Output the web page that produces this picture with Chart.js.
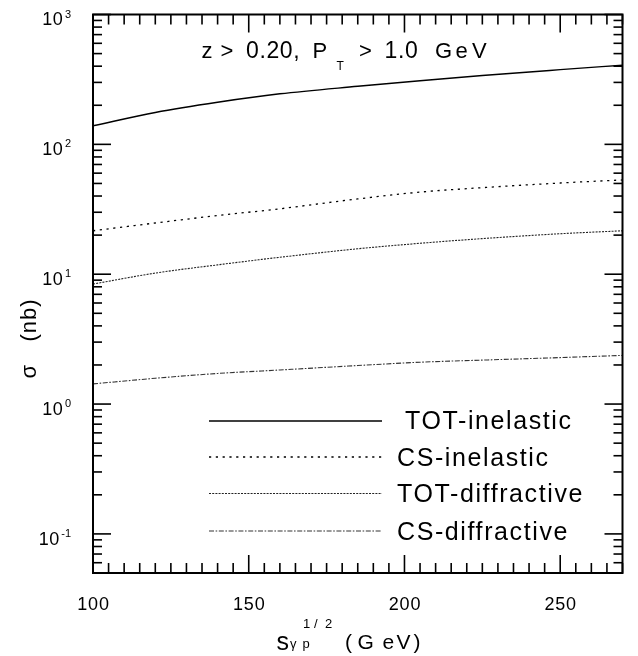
<!DOCTYPE html>
<html><head><meta charset="utf-8">
<script src="https://cdn.jsdelivr.net/npm/chart.js@4/dist/chart.umd.min.js"></script>
<style>html,body{margin:0;padding:0;background:#fff}#wrap{width:638px;height:656px;position:relative}</style>
</head><body><div id="wrap"><canvas id="c" width="638" height="656"></canvas></div>
<script>
// ---- data ----
const energies = [100, 120, 140, 160, 185, 205, 225, 250, 270];      // sqrt(s_γp) in GeV
const totInelastic = [139, 176, 211, 245, 280, 309, 339, 376, 407];    // nb
const csInelastic = [21.6, 24.8, 28.3, 31.9, 38.0, 42.9, 46.4, 50.4, 53.2];
const totDiffractive = [8.4, 10.2, 11.8, 13.5, 15.7, 17.3, 18.8, 20.5, 21.6];
const csDiffractive = [1.43, 1.58, 1.72, 1.83, 1.98, 2.10, 2.18, 2.28, 2.37];
const seriesNames = ['TOT-inelastic', 'CS-inelastic', 'TOT-diffractive', 'CS-diffractive'];
const xTickValues = [100, 150, 200, 250];
const yTickExponents = [3, 2, 1, 0, -1];
const xRange = [100, 270];
const yRange = [0.05, 1000];

const FONT = '"Liberation Sans", Arial, Helvetica, sans-serif';
const pts = arr => energies.map((e, i) => ({x: e, y: arr[i]}));

const styles = [
  {color: '#000', width: 1.4, dash: []},
  {color: '#000', width: 1.3, dash: [2.2, 4.6]},
  {color: '#222', width: 1.1, dash: [2, 1.2]},
  {color: '#333', width: 1.1, dash: [5, 1.6, 1.6, 1.6]}
];
const seriesData = [totInelastic, csInelastic, totDiffractive, csDiffractive];

function txt(ctx, s, x, y, size, opts = {}) {
  ctx.font = size + 'px ' + FONT;
  ctx.letterSpacing = (opts.ls || 0) + 'px';
  ctx.textAlign = opts.align || 'left';
  ctx.textBaseline = 'alphabetic';
  ctx.fillText(s, x, y);
  ctx.letterSpacing = '0px';
}

const frame = {
  id: 'frame',
  afterDraw(chart) {
    const {ctx, chartArea: a, scales: {x, y}} = chart;
    ctx.save();
    ctx.fillStyle = '#000';
    ctx.strokeStyle = '#000';
    ctx.setLineDash([]);
    const seg = (x1, y1, x2, y2) => { ctx.beginPath(); ctx.moveTo(x1, y1); ctx.lineTo(x2, y2); ctx.stroke(); };
    // frame
    ctx.lineWidth = 2;
    ctx.strokeRect(a.left, a.top, a.right - a.left, a.bottom - a.top);
    // x ticks (inside, bottom and top)
    ctx.lineWidth = 1.6;
    for (let v = xRange[0]; v <= xRange[1]; v += 5) {
      const px = x.getPixelForValue(v);
      const L = v % 50 === 0 ? 18 : 10;
      seg(px, a.bottom, px, a.bottom - L);
      seg(px, a.top, px, a.top + L);
    }
    // y ticks (inside, left and right)
    for (let e = -2; e <= 3; e++) {
      for (let m = 1; m <= 9; m++) {
        const v = m * Math.pow(10, e);
        if (v < yRange[0] * 0.999 || v > yRange[1] * 1.001) continue;
        const py = y.getPixelForValue(v);
        const L = m === 1 ? 18 : 9;
        seg(a.left, py, a.left + L, py);
        seg(a.right, py, a.right - L, py);
      }
    }
    // x tick labels
    xTickValues.forEach(v => txt(ctx, String(v), x.getPixelForValue(v) + 0.5, 609.5, 18, {align: 'center', ls: 0.8}));
    // y tick labels 10^n
    yTickExponents.forEach(n => {
      const py = y.getPixelForValue(Math.pow(10, n));
      const sup = String(n);
      ctx.font = '11px ' + FONT;
      const sw = ctx.measureText(sup).width;
      const right = 71;
      txt(ctx, sup, right - sw, py + 3, 11);
      txt(ctx, '10', right - sw - 1.5, py + 10.8, 18, {align: 'right', ls: 0.5});
    });
    // annotation
    const ab = 58.3;
    txt(ctx, 'z', 201.5, ab, 22);
    txt(ctx, '>', 220.5, ab, 22);
    txt(ctx, '0.20,', 246, ab, 23, {ls: 0.6});
    txt(ctx, 'P', 312.5, ab, 22);
    txt(ctx, 'T', 336.5, 70, 12);
    txt(ctx, '>', 359, ab, 22);
    txt(ctx, '1.0', 384.5, ab, 23, {ls: 0.6});
    txt(ctx, 'G', 435, ab, 22);
    txt(ctx, 'e', 455.5, ab, 22);
    txt(ctx, 'V', 472, ab, 22);
    // x axis title
    txt(ctx, 's', 276.5, 649.5, 25);
    txt(ctx, 'γ', 290, 648, 13);
    txt(ctx, 'p', 302.5, 648, 13);
    txt(ctx, '1', 303, 628.3, 13);
    txt(ctx, '/', 314, 628.3, 13);
    txt(ctx, '2', 325, 628.3, 13);
    txt(ctx, '(', 345, 649.3, 21);
    txt(ctx, 'G', 357.5, 649.3, 21);
    txt(ctx, 'e', 382.5, 649.3, 21);
    txt(ctx, 'V', 396.5, 649.3, 21);
    txt(ctx, ')', 413.5, 649.3, 21);
    // y axis title (rotated)
    ctx.save();
    ctx.translate(36, 378.5);
    ctx.rotate(-Math.PI / 2);
    txt(ctx, 'σ', 0, 0, 22);
    txt(ctx, '(nb)', 37, 0, 22, {ls: 1});
    ctx.restore();
    // legend
    const legY = [421, 457, 493.5, 531];
    const legTextX = [405, 397, 397, 397];
    const legBase = [428.5, 466, 502, 540];
    seriesNames.forEach((name, i) => {
      const st = styles[i];
      ctx.strokeStyle = st.color;
      ctx.lineWidth = st.width;
      ctx.setLineDash(st.dash);
      seg(209, legY[i], 382, legY[i]);
      ctx.setLineDash([]);
      ctx.fillStyle = '#000';
      txt(ctx, name, legTextX[i], legBase[i], 25, {ls: 1.6});
    });
    ctx.restore();
  }
};

new Chart(document.getElementById('c'), {
  type: 'line',
  data: {
    datasets: seriesNames.map((name, i) => ({
      label: name,
      data: pts(seriesData[i]),
      borderColor: styles[i].color,
      borderWidth: styles[i].width,
      borderDash: styles[i].dash,
      pointRadius: 0,
      fill: false,
      cubicInterpolationMode: 'monotone'
    }))
  },
  options: {
    responsive: false,
    animation: false,
    devicePixelRatio: 1,
    layout: {padding: {left: 93, right: 15.5, top: 14.5, bottom: 83}},
    plugins: {legend: {display: false}, tooltip: {enabled: false}, title: {display: false}},
    scales: {
      x: {type: 'linear', min: xRange[0], max: xRange[1], display: false},
      y: {type: 'logarithmic', min: yRange[0], max: yRange[1], display: false}
    }
  },
  plugins: [frame]
});
</script>
</body></html>
